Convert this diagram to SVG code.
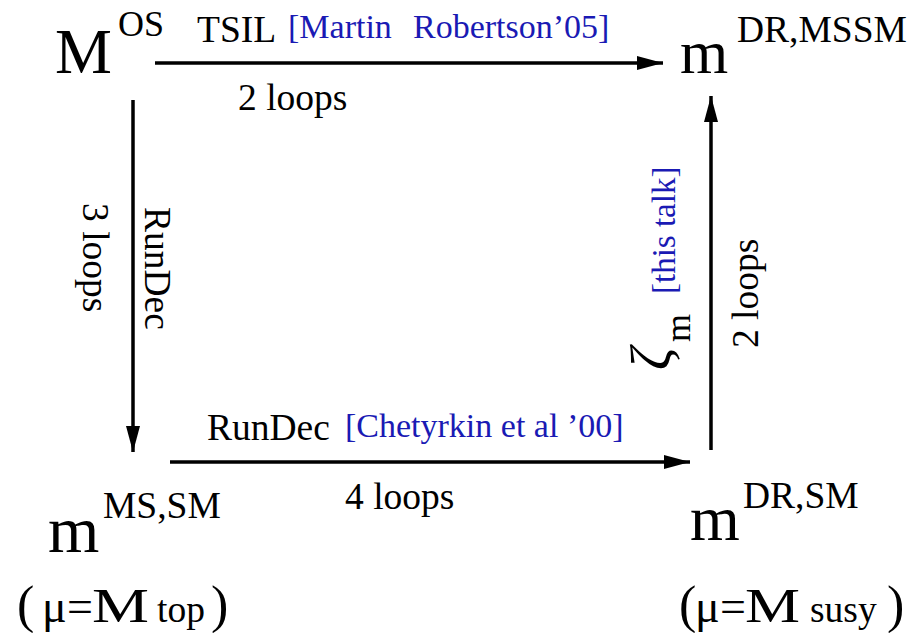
<svg xmlns="http://www.w3.org/2000/svg" width="910" height="633" viewBox="0 0 910 633">
<defs>
<style>
text{font-family:"Liberation Serif","Times New Roman",serif;fill:#000}
.b{fill:#1a1ab4}
.s36{font-size:37.5px}
.s33{font-size:34px}
.big{font-size:64px}
.con{stroke:#000;stroke-width:3.5;fill:none}
</style>
<marker id="ah" markerWidth="26" markerHeight="14" refX="26" refY="7" orient="auto" markerUnits="userSpaceOnUse">
<path d="M0,0 L26,7 L0,14 Z" fill="#000"/>
</marker>
</defs>
<rect width="910" height="633" fill="#fff"/>
<g id="connectors">
<line class="con" x1="155" y1="63" x2="663" y2="63" marker-end="url(#ah)"/>
<line class="con" x1="133" y1="100" x2="133" y2="452" marker-end="url(#ah)"/>
<line class="con" x1="170" y1="462" x2="690" y2="462" marker-end="url(#ah)"/>
<line class="con" x1="711" y1="450" x2="711" y2="96" marker-end="url(#ah)"/>
</g>
<g id="labels">
<text class="s36" x="197" y="42">TSIL</text>
<text class="s33 b" x="288" y="38">[Martin<tspan x="413">Robertson’05]</tspan></text>
<text class="s36" x="238" y="110">2 loops</text>
<text class="s36" transform="translate(83,203) rotate(90)">3 loops</text>
<text class="s36" transform="translate(145,207) rotate(90)">RunDec</text>
<text class="s36" x="207" y="440">RunDec</text>
<text class="s33 b" x="345" y="437">[Chetyrkin et al ’00]</text>
<text class="s36" x="345" y="509">4 loops</text>
<text class="s36" transform="translate(758,348) rotate(-90)">2 loops</text>
<text class="b" style="font-size:33px" transform="translate(675,294) rotate(-90)">[this talk]</text>
<text style="font-size:56px;font-style:italic" transform="translate(670,370) rotate(-90)">ζ</text>
<text style="font-size:36px" transform="translate(690,342) rotate(-90)">m</text>
</g>
<g id="node-Mos">
<text class="big" x="55" y="73">M</text>
<text style="font-size:36px" x="118" y="36">OS</text>
</g>
<g id="node-mDRMSSM">
<text style="font-size:62px" x="680" y="73">m</text>
<text class="s36" x="737" y="42">DR,MSSM</text>
</g>
<g id="node-mMSSM">
<text style="font-size:66px" x="48" y="552">m</text>
<text class="s36" x="103" y="518">MS,SM</text>
<text style="font-size:52px" x="17" y="622">(</text>
<text style="font-size:46px" x="42" y="622">μ</text>
<text style="font-size:46px" x="67" y="622">=</text>
<text style="font-size:48px" x="92" y="622" textLength="57" lengthAdjust="spacingAndGlyphs">M</text>
<text class="s36" x="157" y="622">top</text>
<text style="font-size:52px" x="211" y="622">)</text>
</g>
<g id="node-mDRSM">
<text style="font-size:64px" x="690" y="540">m</text>
<text class="s36" x="743" y="508">DR,SM</text>
<text style="font-size:52px" x="679" y="622">(</text>
<text style="font-size:46px" x="695" y="622">μ</text>
<text style="font-size:46px" x="720" y="622">=</text>
<text style="font-size:48px" x="745" y="622" textLength="55" lengthAdjust="spacingAndGlyphs">M</text>
<text class="s36" x="810" y="622">susy</text>
<text style="font-size:52px" x="887" y="622">)</text>
</g>
</svg>
